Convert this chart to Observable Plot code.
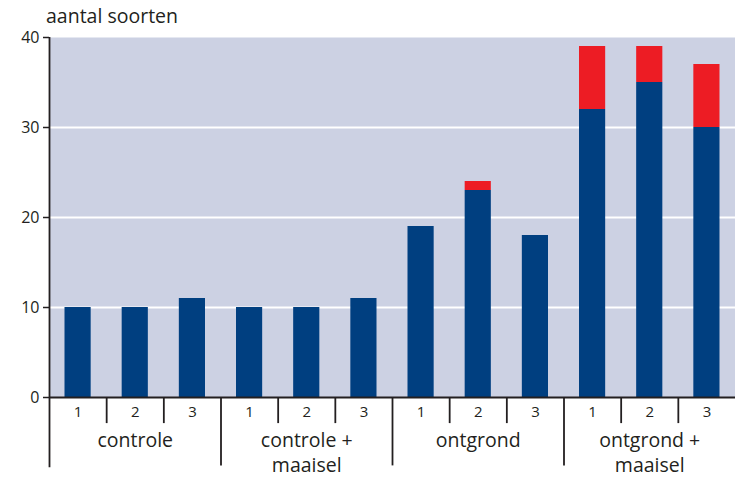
<!DOCTYPE html>
<html>
<head>
<meta charset="utf-8">
<script src="https://cdn.jsdelivr.net/npm/d3@7"></script>
<script src="https://cdn.jsdelivr.net/npm/@observablehq/plot@0.6"></script>
<style>
  body { margin: 0; background: #fff; }
  #wrap { position: relative; width: 735px; height: 477px; font-family: "Open Sans", sans-serif; color: #231f20; }
  #title { position: absolute; left: 46px; top: 6px; font-size: 19.5px; line-height: 1; }
</style>
</head>
<body>
<div id="wrap"><div id="title">aantal soorten</div></div>
<script>
const groups = ["controle", "controle +\nmaaisel", "ontgrond", "ontgrond +\nmaaisel"];
const plotLabels = ["1", "2", "3"];
const blueValues = [10, 10, 11, 10, 10, 11, 19, 23, 18, 32, 35, 30];
const redValues  = [0, 0, 0, 0, 0, 0, 0, 1, 0, 7, 4, 7];
const yTicks = [0, 10, 20, 30, 40];
const gridTicks = [10, 20, 30];

const bars = blueValues.map((b, i) => ({
  slot: i,
  group: groups[Math.floor(i / 3)],
  plot: plotLabels[i % 3],
  blue: b,
  red: redValues[i]
}));
const separators = d3.range(bars.length + 1).map(i => ({slot: i, long: i % 3 === 0}));
const groupLabels = groups.map((g, k) => ({pos: k * 3 + 1.5, label: g}));

const ink = "#231f20";
const chart = Plot.plot({
  width: 735,
  height: 477,
  marginTop: 37,
  marginBottom: 80,
  marginLeft: 49,
  marginRight: 0,
  style: {fontFamily: "Open Sans, sans-serif", fontSize: "15px", color: ink, background: "#fff", overflow: "visible"},
  x: {domain: [0, bars.length], axis: null},
  y: {domain: [0, 40], axis: null},
  marks: [
    Plot.frame({fill: "#ccd1e3", stroke: null}),
    Plot.ruleY(gridTicks, {stroke: "#fff", strokeWidth: 2}),
    Plot.rectY(bars, {x1: "slot", x2: d => d.slot + 1, y1: 0, y2: "blue", fill: "#003f80", insetLeft: 15.5, insetRight: 15.5}),
    Plot.rectY(bars.filter(d => d.red > 0), {x1: "slot", x2: d => d.slot + 1, y1: "blue", y2: d => d.blue + d.red, fill: "#ed1c24", insetLeft: 15.5, insetRight: 15.5}),
    Plot.axisY({ticks: yTicks, tickSize: 6, tickPadding: 4, stroke: ink, strokeWidth: 1.5, fontSize: 16, label: null}),
    Plot.ruleX([0], {y1: 40, y2: -7.8, stroke: ink, strokeWidth: 1.8}),
    Plot.ruleY([0], {stroke: ink, strokeWidth: 1.8}),
    Plot.ruleX(separators.filter(d => d.slot > 0 && d.slot < bars.length), {x: "slot", y1: 0, y2: d => d.long ? -7.6 : -2.9, stroke: ink, strokeWidth: 1.8}),
    Plot.text(bars, {x: d => d.slot + 0.5, y: -1.6, text: "plot", fontSize: 15, fill: ink}),
    Plot.text(groupLabels, {x: "pos", y: -3.55, text: "label", fontSize: 19.5, fill: ink, lineAnchor: "top", lineHeight: 1.28})
  ]
});
document.getElementById("wrap").appendChild(chart);
</script>
</body>
</html>
